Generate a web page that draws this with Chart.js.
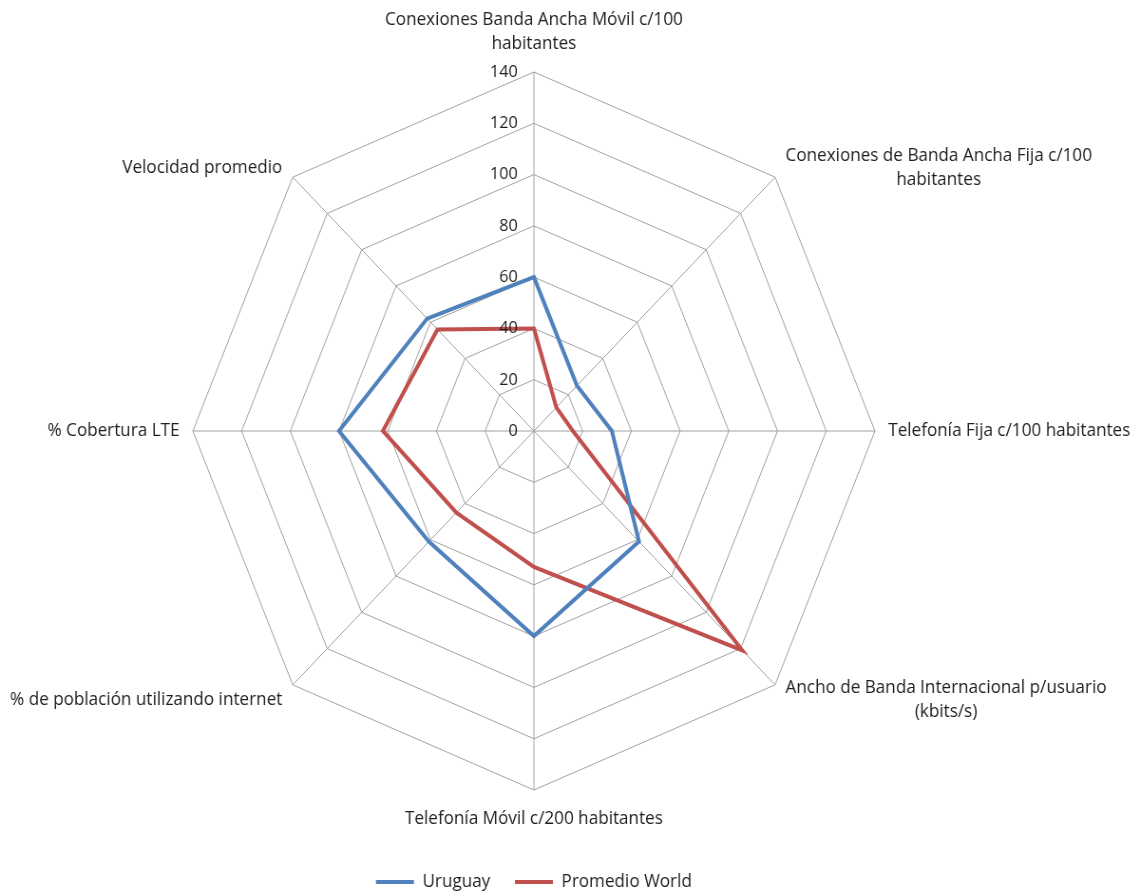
<!DOCTYPE html>
<html lang="es">
  <head>
    <meta charset="UTF-8" />
    <title>Uruguay vs Promedio World</title>
    <style>
      html,
      body {
        margin: 0;
        padding: 0;
        background: #ffffff;
        overflow: hidden;
      }
      /* el radar original es un poco más angosto que alto */
      .wrap {
        width: 1203px;
        height: 896px;
        transform: scaleX(0.95);
        transform-origin: 0 0;
      }
    </style>
  </head>
  <body>
    <div class="wrap">
      <canvas id="radar" width="1203" height="896"></canvas>
    </div>
    <script src="https://cdn.jsdelivr.net/npm/chart.js@4.4.0/dist/chart.umd.min.js"></script>
    <script>
      // ejes del radar (cada texto partido en renglones)
      const categorias = [
        ["Conexiones Banda Ancha Móvil c/100", "habitantes"],
        ["Conexiones de Banda Ancha Fija c/100", "habitantes"],
        ["Telefonía Fija c/100 habitantes"],
        ["Ancho de Banda Internacional p/usuario", "(kbits/s)"],
        ["Telefonía Móvil c/200 habitantes"],
        ["% de población utilizando internet"],
        ["% Cobertura LTE"],
        ["Velocidad promedio"],
      ];
      const uruguay = [60, 25, 32, 61, 80, 61, 80, 62];
      const promedioWorld = [40, 13, 16, 121, 53, 45, 62, 56];
      const valoresEje = [0, 20, 40, 60, 80, 100, 120, 140];

      const colorTexto = "#1e1e1e";
      const colorGrilla = "#a0a0a0";
      const fuente = '"Open Sans", "DejaVu Sans", sans-serif';

      Chart.defaults.font.family = fuente;
      Chart.defaults.color = colorTexto;

      // textos de los ejes y números de la escala, ubicados con la escala r
      const etiquetasRadar = {
        id: "etiquetasRadar",
        afterDraw(chart) {
          const r = chart.scales.r;
          const ctx = chart.ctx;
          ctx.save();
          ctx.fillStyle = colorTexto;
          ctx.font = "17px " + fuente;

          // numeros sobre el eje de arriba, a la izquierda de la línea
          ctx.textAlign = "right";
          ctx.textBaseline = "middle";
          valoresEje.forEach((v) => {
            const p = r.getPointPositionForValue(0, v);
            ctx.fillText(String(v), p.x - 17, p.y);
          });

          ctx.font = "18px " + fuente;
          const alto = 24;
          categorias.forEach((lineas, i) => {
            const ang = r.getIndexAngle(i) - Math.PI / 2;
            const cos = Math.cos(ang);
            const sin = Math.sin(ang);
            const p = r.getPointPosition(i, r.drawingArea);
            const anchos = lineas.map((t) => ctx.measureText(t).width);
            const ancho = Math.max(...anchos);
            const bloque = lineas.length * alto;
            let cx, top;

            if (Math.abs(cos) < 0.01) {
              // arriba o abajo
              cx = p.x;
              top = sin < 0 ? p.y - 16 - bloque : p.y + 17;
            } else if (Math.abs(sin) < 0.01) {
              // costados
              cx = cos > 0 ? p.x + 14 + ancho / 2 : p.x - 14 - ancho / 2;
              top = p.y - bloque / 2;
            } else {
              // diagonales
              const x = p.x + Math.sign(cos) * 11;
              const y = p.y + (sin < 0 ? -9 : 15);
              cx = cos > 0 ? x + ancho / 2 : x - ancho / 2;
              top = y - bloque / 2;
            }

            ctx.textAlign = "center";
            lineas.forEach((t, k) => {
              ctx.fillText(t, cx, top + alto * k + alto / 2);
            });
          });
          ctx.restore();
        },
      };

      new Chart(document.getElementById("radar"), {
        type: "radar",
        data: {
          labels: categorias.map((l) => l.join(" ")),
          datasets: [
            {
              label: "Uruguay",
              data: uruguay,
              borderColor: "#4f81bd",
              backgroundColor: "#4f81bd",
              borderWidth: 4,
              fill: false,
              pointRadius: 0,
              pointHoverRadius: 0,
            },
            {
              label: "Promedio World",
              data: promedioWorld,
              borderColor: "#c0504d",
              backgroundColor: "#c0504d",
              borderWidth: 4,
              fill: false,
              pointRadius: 0,
              pointHoverRadius: 0,
            },
          ],
        },
        options: {
          responsive: false,
          animation: false,
          layout: {
            padding: { left: 203, right: 282, top: 15, bottom: -5 },
          },
          scales: {
            r: {
              min: 0,
              max: 140,
              ticks: { stepSize: 20, display: false },
              grid: { color: colorGrilla, lineWidth: 1 },
              angleLines: { color: colorGrilla, lineWidth: 1 },
              pointLabels: { display: false },
            },
          },
          plugins: {
            tooltip: { enabled: false },
            legend: {
              position: "bottom",
              labels: {
                usePointStyle: true,
                pointStyle: "line",
                pointStyleWidth: 40,
                padding: 26,
                color: colorTexto,
                font: { size: 18 },
              },
            },
          },
        },
        plugins: [etiquetasRadar],
      });
    </script>
  </body>
</html>
